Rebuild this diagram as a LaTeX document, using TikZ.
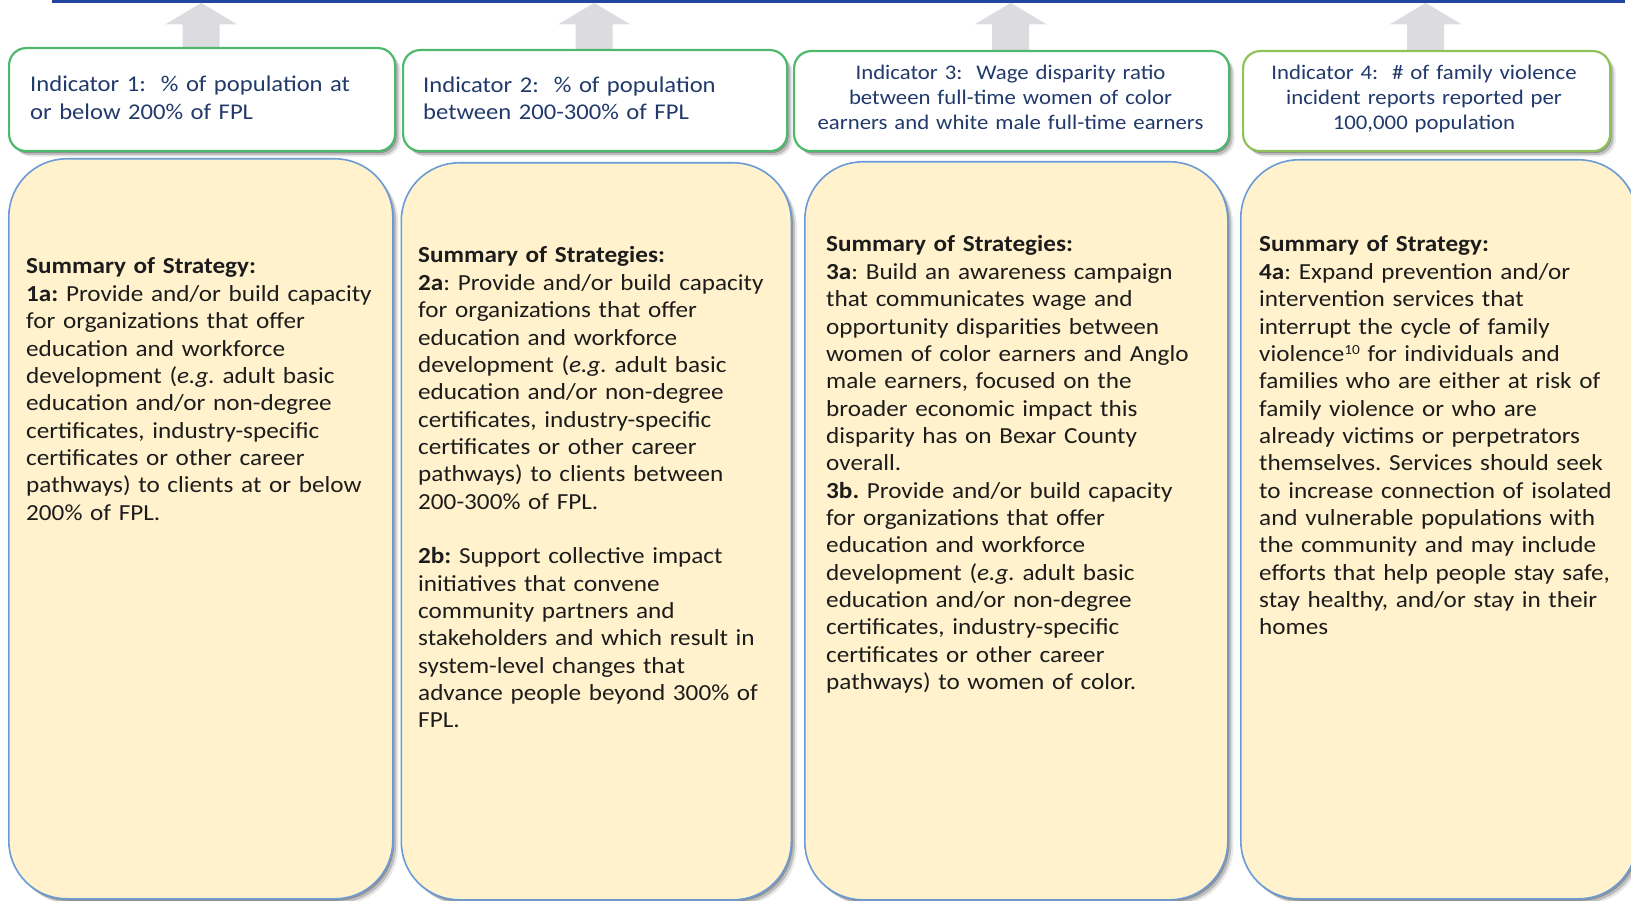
\documentclass[tikz,border=0pt]{standalone}
\usepackage{fontspec}
\setmainfont{Carlito}[FakeStretch=1.095]
\usetikzlibrary{shadows,calc}
\definecolor{boxfill}{HTML}{FFF2CC}
\definecolor{boxline}{HTML}{6A9BD6}
\definecolor{indgreen}{HTML}{4DB96C}
\definecolor{indgreenb}{HTML}{8FC35A}
\definecolor{indtext}{HTML}{213A6B}
\definecolor{bodytext}{HTML}{1C1C1C}
\definecolor{topline}{HTML}{2444A2}
\definecolor{arrowgray}{HTML}{DCDBE0}
\newcommand\upblock[1]{%
  \fill[arrowgray] ($(#1.north)+(-18.5,0)$) -- ($(#1.north |- bar.south)+(-18.5,21.5)$)
    -- ($(#1.north |- bar.south)+(-36,21.5)$) -- (#1.north |- bar.south)
    -- ($(#1.north |- bar.south)+(36,21.5)$) -- ($(#1.north |- bar.south)+(18.5,21.5)$)
    -- ($(#1.north)+(18.5,0)$) -- cycle;}
\frenchspacing
\begin{document}
\frenchspacing
\begin{tikzpicture}[x=1pt,y=-1pt,
  softshadow/.style={general shadow={fill=black, draw=none, opacity=.24, shadow xshift=1.5pt, shadow yshift=-2pt},
                     general shadow={fill=black, draw=none, opacity=.18, shadow xshift=3.5pt, shadow yshift=-4pt},
                     general shadow={fill=black, draw=none, opacity=.09, shadow xshift=5.5pt, shadow yshift=-5.5pt}},
  geom/.style={inner sep=0pt, anchor=north west, draw=none, fill=none},
  indbox/.style={draw=indgreen, line width=2.2pt, fill=white, rounded corners=17pt, inner sep=0pt, anchor=north west, softshadow},
  bigbox/.style={draw=boxline, line width=1.6pt, fill=boxfill, rounded corners=58pt, inner sep=0pt, anchor=north west, softshadow},
  bodytxt/.style={text width=420pt, align=left, inner sep=0pt, anchor=base west, text=bodytext, font=\fontsize{23}{27.35}\selectfont\frenchspacing},
  indtxtl/.style={text width=380pt, align=left, inner sep=0pt, anchor=base west, text=indtext, font=\fontsize{22.5}{27.5}\selectfont\frenchspacing},
  indtxtc/.style={text width=430pt, align=center, inner sep=0pt, anchor=base, text=indtext, font=\fontsize{20.8}{25}\selectfont\frenchspacing}]
\useasboundingbox (0,0) rectangle (1631,901);
\clip (0,0) rectangle (1631,901);

% top bar
\node[fill=topline, minimum width=1573pt, minimum height=2.5pt, inner sep=0pt, anchor=north west] (bar) at (52,0) {};

% indicator box geometry (for the block arrows drawn behind the boxes)
\node[geom, minimum width=386pt, minimum height=103pt] (g1) at (8,47) {};
\node[geom, minimum width=384pt, minimum height=101pt] (g2) at (402,49) {};
\node[geom, minimum width=435pt, minimum height=100pt] (g3) at (793,50) {};
\node[geom, minimum width=367pt, minimum height=100pt] (g4) at (1242,50) {};

% block arrows
\upblock{g1}
\upblock{g2}
\upblock{g3}
\upblock{g4}

% indicator boxes
\node[indbox, minimum width=386pt, minimum height=103pt] (i1) at (g1.north west) {};
\node[indbox, minimum width=384pt, minimum height=101pt] (i2) at (g2.north west) {};
\node[indbox, minimum width=435pt, minimum height=100pt] (i3) at (g3.north west) {};
\node[indbox, draw=indgreenb, minimum width=367pt, minimum height=100pt] (i4) at (g4.north west) {};

% strategy boxes
\node[bigbox, minimum width=384pt, minimum height=740pt] (sA) at (8,158) {};
\node[bigbox, minimum width=390pt, minimum height=737pt] (sB) at (400.5,162) {};
\node[bigbox, minimum width=423pt, minimum height=738pt] (sC) at (804,161) {};
\node[bigbox, minimum width=396pt, minimum height=739pt] (sD) at (1240,159) {};

% indicator texts
\node[indtxtl] (n1) at (30,92) {Indicator 1:\ \ \% of population at\\or below 200\% of FPL};
\node[indtxtl] (n2) at (423,92.5) {Indicator 2:\ \ \% of population\\between 200-300\% of FPL};
\node[indtxtc] (n3) at (1010.5,80) {Indicator 3:\ \ Wage disparity ratio\\between full-time women of color\\earners and white male full-time earners};
\node[indtxtc] (n4) at (1424,80) {Indicator 4:\ \ \# of family violence\\incident reports reported per\\100,000 population};

% strategy texts
\node[bodytxt] (tA) at (26,274) {\textbf{Summary of Strategy:}\\
\textbf{1a:} Provide and/or build capacity\\
for organizations that offer\\
education and workforce\\
development (\textit{e.g.} adult basic\\
education and/or non-degree\\
certificates, industry-specific\\
certificates or other career\\
pathways) to clients at or below\\
200\% of FPL.};

\node[bodytxt] (tB) at (418,263) {\textbf{Summary of Strategies:}\\
\textbf{2a}: Provide and/or build capacity\\
for organizations that offer\\
education and workforce\\
development (\textit{e.g.} adult basic\\
education and/or non-degree\\
certificates, industry-specific\\
certificates or other career\\
pathways) to clients between\\
200-300\% of FPL.\\[27.35pt]
\textbf{2b:} Support collective impact\\
initiatives that convene\\
community partners and\\
stakeholders and which result in\\
system-level changes that\\
advance people beyond 300\% of\\
FPL.};

\node[bodytxt] (tC) at (826,252) {\textbf{Summary of Strategies:}\\
\textbf{3a}: Build an awareness campaign\\
that communicates wage and\\
opportunity disparities between\\
women of color earners and Anglo\\
male earners, focused on the\\
broader economic impact this\\
disparity has on Bexar County\\
overall.\\
\textbf{3b.} Provide and/or build capacity\\
for organizations that offer\\
education and workforce\\
development (\textit{e.g.} adult basic\\
education and/or non-degree\\
certificates, industry-specific\\
certificates or other career\\
pathways) to women of color.};

\node[bodytxt] (tD) at (1259,252) {\textbf{Summary of Strategy:}\\
\textbf{4a}: Expand prevention and/or\\
intervention services that\\
interrupt the cycle of family\\
violence{\fontsize{14}{14}\selectfont\raisebox{6.5pt}{10}} for individuals and\\
families who are either at risk of\\
family violence or who are\\
already victims or perpetrators\\
themselves. Services should seek\\
to increase connection of isolated\\
and vulnerable populations with\\
the community and may include\\
efforts that help people stay safe,\\
stay healthy, and/or stay in their\\
homes};
\end{tikzpicture}
\end{document}
